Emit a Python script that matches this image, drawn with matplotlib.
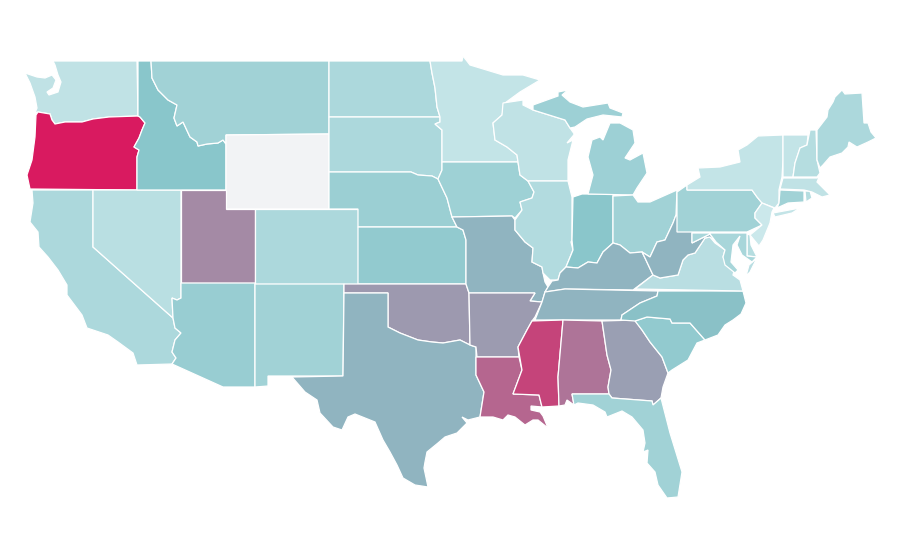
import numpy as np
import matplotlib
matplotlib.use('Agg')
import matplotlib.pyplot as plt
from matplotlib.colors import LinearSegmentedColormap, Normalize
from matplotlib.patches import Polygon

# Values per state (Wyoming has no data)
states = ['WA', 'OR', 'CA', 'NV', 'ID', 'MT', 'WY', 'UT', 'AZ', 'CO', 'NM', 'ND', 'SD', 'NE', 'KS', 'OK',
          'TX', 'MN', 'IA', 'MO', 'AR', 'LA', 'WI', 'IL', 'IN', 'MI', 'OH', 'KY', 'TN', 'MS', 'AL', 'GA',
          'FL', 'SC', 'NC', 'VA', 'WV', 'PA', 'NY', 'NJ', 'DE', 'MD', 'CT', 'RI', 'MA', 'VT', 'NH', 'ME']
values = [5.4, 100, 14, 8, 29.5, 19, np.nan, 54, 23, 14, 19, 14, 14, 21.5, 25.5, 48,
          37, 3.6, 20, 37, 47, 69, 5.4, 11, 29, 20.5, 19, 37, 37, 82.5, 63, 45.5,
          19, 25.5, 32, 8.5, 37, 19, 3.6, 0, 10, 16, 19, 10, 5.4, 3.6, 10, 14]

# State outlines in projected map units, one list per part
shapes = {
    'WA': [[(53, 61), (137, 61), (138, 116), (109, 117), (93, 119), (82, 122), (65, 122), (55, 124), (52, 120),
            (50, 114), (38, 112), (35, 113), (37, 108), (35, 97), (30, 83), (25, 73), (37, 77), (45, 78), (52, 75),
            (56, 80), (53, 88), (47, 92), (49, 95), (58, 92), (61, 82), (58, 75), (55, 65)]],
    'OR': [[(36, 115), (38, 112), (50, 114), (52, 120), (55, 124), (65, 122), (82, 122), (93, 119), (109, 117),
            (138, 116), (140, 117), (145, 123), (142, 130), (139, 138), (134, 147), (139, 150), (137, 157),
            (137, 190), (30, 189), (27, 175), (32, 160), (35, 137)]],
    'ID': [[(138, 61), (151, 61), (152, 78), (158, 90), (168, 100), (177, 105), (174, 118), (177, 126), (183, 122),
            (190, 137), (197, 142), (198, 146), (207, 144), (218, 143), (223, 140), (226, 144), (226, 190),
            (137, 190), (137, 157), (139, 150), (134, 147), (139, 138), (142, 130), (145, 123), (140, 117),
            (138, 116)]],
    'MT': [[(151, 61), (329, 61), (329, 134), (226, 135), (226, 144), (223, 140), (218, 143), (207, 144), (198, 146),
            (197, 142), (190, 137), (183, 122), (177, 126), (174, 118), (177, 105), (168, 100), (158, 90), (152, 78)]],
    'WY': [[(226, 135), (329, 134), (329, 209), (226, 209)]],
    'UT': [[(181, 190), (226, 190), (226, 209), (255, 209), (255, 283), (181, 283)]],
    'NV': [[(93, 190), (181, 190), (181, 298), (177, 300), (172, 298), (173, 318), (93, 247)]],
    'CA': [[(32, 190), (93, 190), (93, 247), (173, 318), (175, 328), (181, 333), (175, 340), (172, 352), (176, 358),
            (172, 364), (137, 365), (133, 353), (118, 342), (108, 335), (87, 328), (82, 315), (67, 295), (67, 285),
            (58, 270), (48, 257), (39, 247), (38, 232), (30, 222), (33, 203)]],
    'AZ': [[(181, 283), (255, 283), (255, 387), (223, 387), (172, 364), (176, 358), (172, 352), (175, 340), (181, 333),
            (175, 328), (173, 318), (172, 298), (177, 300), (181, 298)]],
    'NM': [[(255, 284), (344, 284), (343, 376), (268, 376), (268, 386), (255, 387)]],
    'CO': [[(255, 209), (358, 209), (358, 284), (255, 284)]],
    'ND': [[(329, 61), (430, 61), (432, 73), (435, 88), (437, 107), (440, 117), (329, 117)]],
    'SD': [[(329, 117), (440, 117), (440, 122), (435, 124), (442, 130), (442, 170), (438, 179), (432, 176), (418, 175),
            (411, 172), (329, 172)]],
    'NE': [[(329, 172), (411, 172), (418, 175), (432, 176), (438, 179), (447, 198), (452, 217), (457, 227), (358, 227),
            (358, 209), (329, 209)]],
    'KS': [[(358, 227), (457, 227), (463, 230), (466, 240), (466, 284), (358, 284)]],
    'OK': [[(344, 284), (466, 284), (469, 293), (470, 345), (460, 340), (443, 343), (432, 342), (418, 340), (400, 333),
            (388, 327), (388, 293), (344, 293)]],
    'TX': [[(344, 293), (388, 293), (388, 327), (400, 333), (418, 340), (432, 342), (443, 343), (460, 340), (470, 345),
            (476, 347), (476, 375), (484, 392), (480, 417), (468, 420), (462, 417), (467, 423), (457, 433), (445, 437),
            (438, 443), (427, 452), (425, 462), (424, 468), (428, 487), (415, 485), (403, 478), (397, 465), (390, 452),
            (383, 440), (375, 422), (355, 414), (348, 417), (342, 430), (333, 427), (320, 413), (317, 400), (305, 392),
            (292, 377), (343, 376)]],
    'MN': [[(430, 61), (462, 61), (463, 56), (470, 65), (503, 75), (523, 75), (540, 80), (520, 92), (505, 103),
            (502, 115), (493, 123), (495, 140), (507, 147), (517, 155), (518, 162), (442, 162), (442, 130), (435, 124),
            (440, 122), (440, 117), (437, 107), (435, 88), (432, 73)]],
    'IA': [[(442, 162), (518, 162), (520, 175), (528, 181), (534, 192), (532, 198), (520, 202), (522, 210), (515, 218),
            (512, 216), (452, 217), (447, 198), (438, 179), (442, 170)]],
    'MO': [[(452, 217), (512, 216), (515, 220), (515, 230), (525, 242), (533, 248), (532, 262), (542, 267), (543, 273),
            (545, 282), (548, 287), (545, 292), (542, 302), (530, 301), (535, 293), (469, 293), (466, 284), (466, 240),
            (463, 230), (457, 227)]],
    'AR': [[(469, 293), (535, 293), (530, 301), (542, 302), (535, 317), (532, 321), (527, 330), (518, 347), (519, 357),
            (477, 357), (476, 347), (470, 345)]],
    'LA': [[(476, 357), (519, 357), (522, 370), (513, 394), (539, 395), (542, 407), (531, 406), (531, 410), (540, 412),
            (543, 416), (548, 428), (538, 420), (533, 420), (525, 425), (515, 417), (508, 415), (503, 420), (493, 417),
            (480, 417), (484, 392), (476, 375)]],
    'WI': [[(503, 103), (523, 100), (523, 105), (533, 110), (565, 120), (570, 128), (575, 135), (578, 130), (567, 143),
            (573, 140), (568, 160), (568, 181), (528, 181), (520, 175), (518, 162), (517, 155), (507, 147), (495, 140),
            (493, 123), (502, 115)]],
    'IL': [[(528, 181), (568, 181), (572, 197), (572, 240), (571, 242), (573, 250), (566, 267), (560, 273), (558, 280),
            (550, 280), (543, 273), (542, 267), (532, 262), (533, 248), (525, 242), (515, 230), (515, 220), (522, 210),
            (520, 202), (532, 198), (534, 192)]],
    'IN': [[(573, 197), (582, 194), (613, 194), (613, 243), (603, 252), (597, 263), (588, 262), (578, 268), (566, 267),
            (573, 250), (572, 240)]],
    'MI': [[(588, 194), (593, 175), (588, 157), (592, 140), (600, 137), (603, 140), (610, 123), (620, 123), (633, 130),
            (635, 143), (625, 158), (630, 160), (643, 153), (647, 173), (637, 188), (633, 195)],
           [(533, 105), (558, 96), (558, 92), (568, 90), (562, 95), (570, 102), (583, 107), (608, 103), (610, 108),
            (623, 113), (622, 117), (603, 115), (587, 119), (575, 127), (570, 128), (565, 120), (533, 110)],
           [(549, 82), (556, 78), (551, 81)]],
    'OH': [[(613, 196), (633, 195), (638, 202), (650, 202), (677, 190), (676, 215), (673, 223), (665, 240), (657, 242),
            (650, 257), (642, 252), (630, 253), (620, 245), (613, 243)]],
    'KY': [[(552, 281), (558, 280), (560, 273), (566, 267), (578, 268), (588, 262), (597, 263), (603, 252), (613, 243),
            (620, 245), (630, 253), (642, 252), (645, 258), (653, 275), (633, 290), (565, 289), (545, 292), (548, 287)]],
    'TN': [[(535, 320), (542, 302), (545, 292), (565, 289), (658, 291), (657, 296), (640, 303), (622, 315), (621, 320)]],
    'MS': [[(532, 321), (563, 320), (558, 377), (559, 406), (542, 407), (539, 395), (513, 394), (522, 370), (518, 347),
            (527, 330)]],
    'AL': [[(563, 320), (602, 321), (607, 355), (611, 370), (608, 387), (609, 394), (572, 394), (574, 405), (567, 400),
            (565, 405), (559, 406), (558, 377)]],
    'GA': [[(602, 321), (635, 320), (642, 330), (650, 342), (662, 357), (668, 373), (663, 387), (661, 398), (653, 405),
            (652, 401), (612, 398), (609, 394), (608, 387), (611, 370), (607, 355)]],
    'FL': [[(572, 394), (609, 394), (612, 398), (652, 401), (653, 405), (661, 398), (670, 433), (682, 472), (678, 497),
            (667, 498), (658, 485), (655, 472), (647, 463), (648, 450), (643, 452), (645, 443), (643, 430), (632, 417),
            (622, 411), (607, 417), (605, 412), (593, 405), (578, 403), (574, 405)]],
    'SC': [[(635, 321), (647, 317), (670, 319), (672, 323), (690, 323), (705, 340), (697, 343), (688, 360), (672, 370),
            (668, 373), (662, 357), (650, 342), (642, 330)]],
    'NC': [[(658, 291), (743, 291), (746, 303), (741, 314), (733, 320), (725, 325), (718, 335), (705, 340), (690, 323),
            (672, 323), (670, 319), (647, 317), (635, 321), (621, 320), (622, 315), (640, 303), (657, 296)]],
    'VA': [[(635, 289), (653, 275), (660, 278), (678, 275), (683, 260), (688, 255), (695, 253), (705, 238), (710, 237),
            (715, 243), (725, 250), (723, 257), (735, 267), (733, 275), (740, 280), (743, 291)],
           [(757, 258), (750, 272), (746, 276), (749, 265)]],
    'WV': [[(676, 215), (692, 232), (692, 243), (710, 234), (716, 242), (710, 237), (705, 238), (695, 253), (688, 255),
            (683, 260), (678, 275), (660, 278), (653, 275), (645, 258), (642, 252), (650, 257), (657, 242), (665, 240),
            (673, 223)]],
    'PA': [[(677, 192), (687, 185), (687, 190), (752, 190), (757, 197), (762, 203), (755, 213), (755, 218), (762, 225),
            (747, 232), (677, 232)]],
    'NY': [[(687, 190), (687, 185), (700, 177), (698, 168), (720, 167), (740, 162), (738, 150), (747, 145), (758, 136),
            (783, 135), (783, 160), (782, 177), (779, 190), (779, 203), (775, 208), (762, 203), (757, 197), (752, 190)],
           [(773, 213), (800, 208), (792, 213), (775, 217)]],
    'NJ': [[(762, 203), (774, 208), (772, 212), (770, 223), (763, 240), (759, 246), (750, 235), (762, 225), (755, 218),
            (755, 213)]],
    'DE': [[(747, 234), (750, 235), (751, 245), (757, 257), (747, 256)]],
    'MD': [[(692, 233), (747, 233), (747, 256), (757, 257), (752, 262), (742, 255), (737, 245), (740, 236), (733, 245),
            (731, 262), (738, 270), (735, 273), (725, 265), (723, 257), (725, 250), (716, 242), (710, 234), (692, 243)]],
    'CT': [[(780, 190), (804, 191), (804, 202), (788, 203), (777, 208), (779, 203)]],
    'RI': [[(805, 191), (810, 191), (812, 198), (806, 202)]],
    'MA': [[(783, 178), (817, 178), (820, 175), (817, 182), (823, 188), (830, 195), (822, 197), (812, 192), (804, 190),
            (780, 189)]],
    'VT': [[(783, 135), (808, 135), (807, 145), (800, 148), (795, 163), (793, 177), (783, 177), (783, 160)]],
    'NH': [[(809, 135), (810, 130), (816, 130), (817, 160), (820, 173), (817, 177), (793, 177), (795, 163), (800, 148),
            (807, 145)]],
    'ME': [[(817, 130), (827, 117), (828, 110), (833, 102), (835, 97), (842, 90), (845, 94), (862, 93), (864, 123),
            (868, 123), (871, 132), (876, 138), (868, 142), (857, 147), (849, 142), (848, 147), (842, 153), (830, 157),
            (823, 165), (820, 168), (817, 160)]],
}

# Light teal up to the middle of the range, then on to crimson
cmap = LinearSegmentedColormap.from_list('teal_crimson', [(0, '#cbe8eb'), (0.3, '#88c5ca'), (1, '#d91a60')])
cmap.set_bad('#f2f3f5')
norm = Normalize(0, 100)

fig = plt.figure(figsize=(9, 5.6), dpi=100)
ax = fig.add_axes([0, 0, 1, 1])

for state, value in zip(states, values):
    color = cmap(norm(np.ma.masked_invalid(value)))
    for part in shapes[state]:
        ax.add_patch(Polygon(part, closed=True, facecolor=color, edgecolor='white', linewidth=0.9))

ax.set_xlim(0, 900)
ax.set_ylim(560, 0)
ax.axis('off')

plt.savefig('out.png', dpi=100)
